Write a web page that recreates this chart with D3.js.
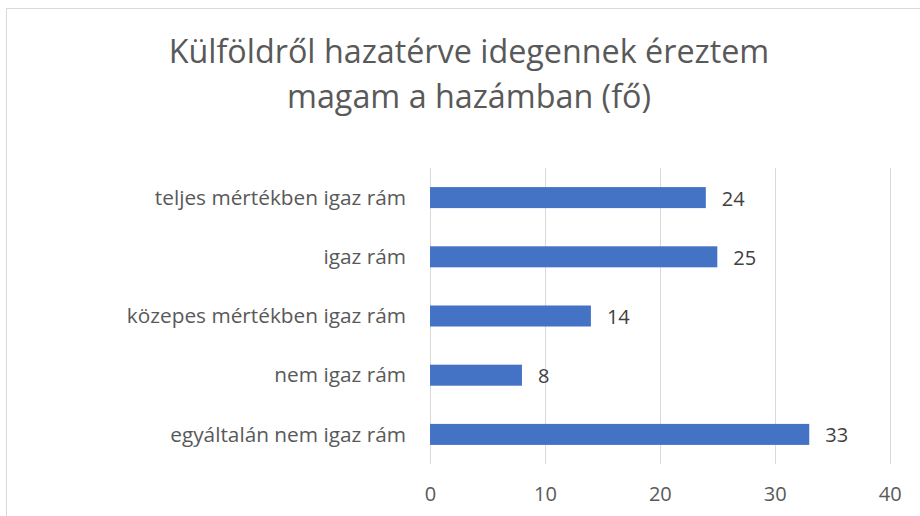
<!DOCTYPE html>
<html>
<head>
<meta charset="utf-8">
<script src="https://cdn.jsdelivr.net/npm/d3@7"></script>
<style>
  html, body { margin: 0; padding: 0; background: #fff; }
  svg { display: block; }
  text { font-family: "Open Sans", "Noto Sans", sans-serif; }
</style>
</head>
<body>
<svg id="chart" width="920" height="516"></svg>
<script>
const titleLines = ["Külföldről hazatérve idegennek éreztem", "magam a hazámban (fő)"];
const categories = ["teljes mértékben igaz rám", "igaz rám", "közepes mértékben igaz rám", "nem igaz rám", "egyáltalán nem igaz rám"];
const values = [24, 25, 14, 8, 33];
const xTicks = [0, 10, 20, 30, 40];

const svg = d3.select("#chart");

// chart border
svg.append("rect")
  .attr("x", 6.5).attr("y", 8.5)
  .attr("width", 1000).attr("height", 1000)
  .attr("fill", "#fff").attr("stroke", "#d9d9d9").attr("stroke-width", 1);

// title
svg.append("g").selectAll("text").data(titleLines).join("text")
  .attr("x", 469)
  .attr("y", (d, i) => 63 + i * 45)
  .attr("text-anchor", "middle")
  .attr("fill", "#595959")
  .attr("font-size", 32.3)
  .text(d => d);

const x = d3.scaleLinear().domain([0, 40]).range([430, 889.7]);
const y = d3.scaleBand().domain(categories).range([168, 464]).paddingInner(0.645).paddingOuter(0.3225);

// gridlines
svg.append("g").selectAll("line").data(xTicks).join("line")
  .attr("x1", d => Math.round(x(d)) + 0.5).attr("x2", d => Math.round(x(d)) + 0.5)
  .attr("y1", 168).attr("y2", 464)
  .attr("stroke", "#d9d9d9").attr("stroke-width", 1);

// x axis tick labels
const xAxis = d3.axisBottom(x).tickValues(xTicks).tickSize(0).tickPadding(0).tickFormat(d3.format("d"));
const gx = svg.append("g").attr("transform", "translate(0,487)").call(xAxis);
gx.select(".domain").remove();
gx.selectAll("text").attr("fill", "#595959").attr("font-size", 20)
  .attr("font-family", "'Open Sans', 'Noto Sans', sans-serif").attr("dy", "0.71em");

// y axis category labels
const yAxis = d3.axisLeft(y).tickSize(0).tickPadding(0);
const gy = svg.append("g").attr("transform", "translate(406,0)").call(yAxis);
gy.select(".domain").remove();
gy.selectAll("text").attr("fill", "#595959").attr("font-size", 20.8)
  .attr("font-family", "'Open Sans', 'Noto Sans', sans-serif").attr("dy", "0.35em");

// bars
svg.append("g").selectAll("rect").data(values).join("rect")
  .attr("x", x(0))
  .attr("y", (d, i) => y(categories[i]))
  .attr("width", d => x(d) - x(0))
  .attr("height", y.bandwidth())
  .attr("fill", "#4472c4");

// value labels
svg.append("g").selectAll("text").data(values).join("text")
  .attr("x", d => x(d) + 16)
  .attr("y", (d, i) => y(categories[i]) + y.bandwidth() / 2)
  .attr("dy", "0.4em")
  .attr("fill", "#404040")
  .attr("font-size", 20)
  .text(d => d);
</script>
</body>
</html>
